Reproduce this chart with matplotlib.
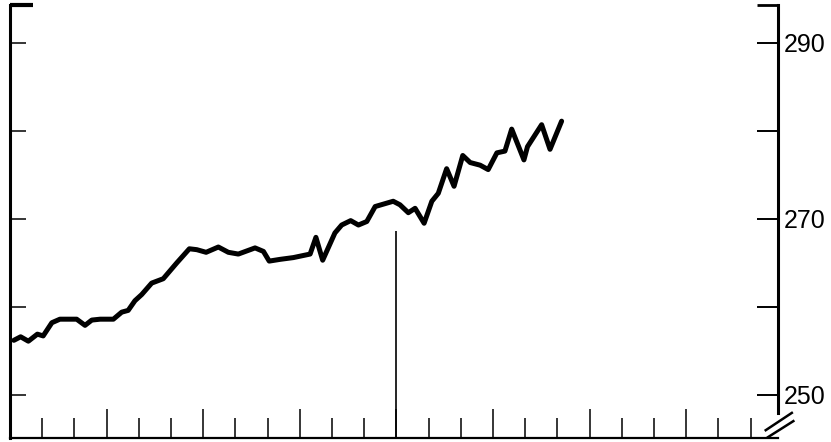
import matplotlib
matplotlib.use("Agg")
import matplotlib.pyplot as plt
from matplotlib.ticker import FixedLocator, NullFormatter

# ---- data (x in months from start, y in index value) ----
months = [0.12, 0.33, 0.57, 0.85, 1.03, 1.30, 1.55, 2.07, 2.33, 2.54,
          2.80, 3.21, 3.47, 3.67, 3.88, 4.09, 4.40, 4.76, 5.18, 5.57,
          5.80, 6.09, 6.47, 6.78, 7.09, 7.61, 7.87, 8.05, 8.39, 8.80,
          9.32, 9.50, 9.71, 10.09, 10.30, 10.58, 10.82, 11.08, 11.34, 11.90,
          12.11, 12.37, 12.58, 12.86, 13.10, 13.30, 13.56, 13.79, 14.06, 14.29,
          14.60, 14.85, 15.12, 15.37, 15.58, 15.96, 16.07, 16.51, 16.77, 17.13]
values = [256.2, 256.6, 256.1, 256.9, 256.7, 258.2, 258.6, 258.6, 257.9, 258.5,
          258.6, 258.6, 259.4, 259.6, 260.7, 261.4, 262.7, 263.2, 265.0, 266.6,
          266.5, 266.2, 266.8, 266.2, 266.0, 266.7, 266.3, 265.2, 265.4, 265.6,
          266.0, 267.9, 265.3, 268.4, 269.3, 269.8, 269.3, 269.7, 271.4, 272.0,
          271.6, 270.7, 271.2, 269.5, 272.0, 272.9, 275.7, 273.7, 277.2, 276.4,
          276.1, 275.6, 277.5, 277.7, 280.2, 276.7, 278.2, 280.7, 277.9, 281.1]

y_ticks = [250, 260, 270, 280, 290]
y_labels = ["250", "", "270", "", "290"]
x_minor_ticks = [1, 2, 4, 5, 7, 8, 10, 11, 13, 14, 16, 17, 19, 20, 22, 23]
x_major_ticks = [3, 6, 9, 12, 15, 18, 21]
marker_month = 12
marker_top = 268.6

fig = plt.figure(figsize=(8.31, 4.42), dpi=100)
ax = fig.add_axes([10 / 831, 4 / 442, 768 / 831, 433 / 442])
ax.set_xlim(0, 23.85)
ax.set_ylim(245.1, 294.3)

ax.plot(months, values, color="black", lw=3.6, solid_joinstyle="round",
        solid_capstyle="round")
ax.vlines(marker_month, 245.1, marker_top, color="black", lw=1.2)

# spines
ax.spines["top"].set_visible(False)
ax.spines["right"].set_visible(False)
ax.spines["left"].set_linewidth(2.2)
ax.spines["bottom"].set_linewidth(1.6)

# x ticks (inward, no labels)
ax.xaxis.set_major_locator(FixedLocator(x_major_ticks))
ax.xaxis.set_minor_locator(FixedLocator(x_minor_ticks))
ax.xaxis.set_major_formatter(NullFormatter())
ax.tick_params(axis="x", which="major", direction="in", length=21, width=1.1)
ax.tick_params(axis="x", which="minor", direction="in", length=14.5, width=1.1)

# left ticks
ax.set_yticks(y_ticks)
ax.set_yticklabels([])
ax.tick_params(axis="y", which="major", direction="in", length=11.5, width=1.1)

# right axis
ax2 = ax.twinx()
ax2.set_ylim(ax.get_ylim())
for s in ["top", "left", "bottom"]:
    ax2.spines[s].set_visible(False)
ax2.spines["right"].set_linewidth(2.2)
ax2.spines["right"].set_bounds(247.95, 294.3)
ax2.set_yticks(y_ticks)
ax2.set_yticklabels(y_labels, fontsize=18, family="Liberation Sans")
ax2.tick_params(axis="y", direction="in", length=15, width=1.4, pad=4)

# top caps
ax.plot([0, 0.03], [1, 1], transform=ax.transAxes, color="black", lw=3,
        clip_on=False, solid_capstyle="butt")
ax.plot([0.9727, 1.0], [1, 1], transform=ax.transAxes, color="black", lw=2,
        clip_on=False, solid_capstyle="butt")

# axis break marks at lower right
ax.plot([0.984, 1.018], [0.018, 0.058], transform=ax.transAxes, color="black",
        lw=1.8, clip_on=False)
ax.plot([0.987, 1.020], [0.002, 0.039], transform=ax.transAxes, color="black",
        lw=1.8, clip_on=False)

fig.savefig("out.png", dpi=100)
